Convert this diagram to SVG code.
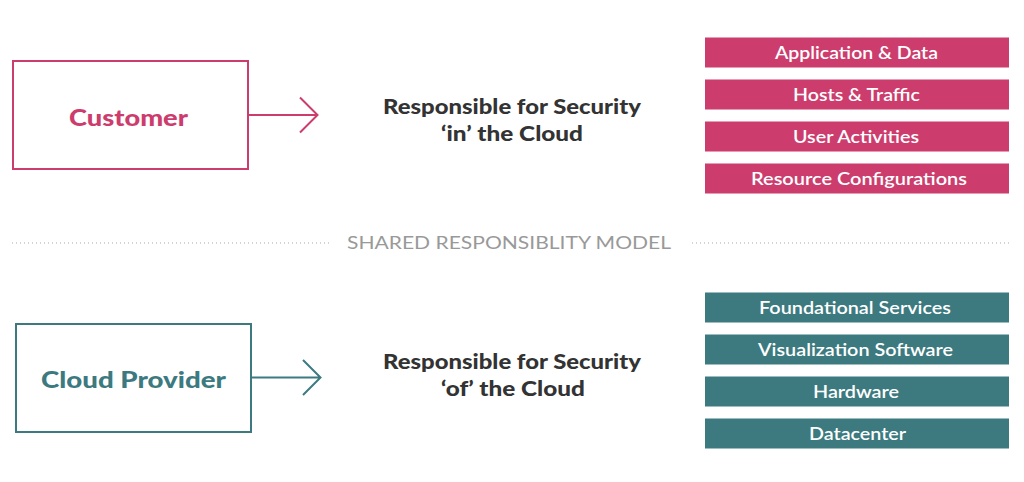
<svg xmlns="http://www.w3.org/2000/svg" width="1024" height="482" viewBox="0 0 1024 482">
<style>
.pk{fill:#cc3d6e}
.tl{fill:#3c7a80}
text{font-family:Lato,"Open Sans",sans-serif}
.bar{font-size:17.5px;font-weight:600;fill:#fff}
.mid{font-size:20px;font-weight:900;fill:#333}
.big{font-size:23px;font-weight:900}
.dot{stroke:#aaa;stroke-width:1;stroke-dasharray:1 3;fill:none}
</style>
<rect width="1024" height="482" fill="#fff"/>
<g id="customer">
<rect x="13" y="61" width="235" height="108" fill="none" stroke="#cc3d6e" stroke-width="2"/>
<text class="big" x="69" y="126" fill="#cc3d6e" textLength="119" lengthAdjust="spacingAndGlyphs">Customer</text>
</g>
<g id="cloud-provider">
<rect x="16" y="324" width="235" height="108" fill="none" stroke="#3c7a80" stroke-width="2"/>
<text class="big" x="41" y="388" fill="#3c7a80" textLength="185" lengthAdjust="spacingAndGlyphs">Cloud Provider</text>
</g>
<g id="connectors" fill="none" stroke-width="2">
<path d="M248 115 H317 M300 97.5 L317.5 115 L300 132.5" stroke="#cc3d6e"/>
<path d="M251 377.5 H320 M303 360 L320.5 377.5 L303 395" stroke="#3c7a80"/>
</g>
<g id="label-in">
<text class="mid" x="383" y="114" textLength="258" lengthAdjust="spacingAndGlyphs">Responsible for Security</text>
<text class="mid" x="441" y="141" textLength="142" lengthAdjust="spacingAndGlyphs">‘in’ the Cloud</text>
</g>
<g id="label-of">
<text class="mid" x="383" y="369" textLength="258" lengthAdjust="spacingAndGlyphs">Responsible for Security</text>
<text class="mid" x="441" y="396" textLength="144" lengthAdjust="spacingAndGlyphs">‘of’ the Cloud</text>
</g>
<g id="customer-items">
<rect class="pk" x="705" y="37.5" width="304" height="30"/>
<text class="bar" x="775" y="58.5" textLength="163" lengthAdjust="spacingAndGlyphs">Application &amp; Data</text>
<rect class="pk" x="705" y="79.5" width="304" height="30"/>
<text class="bar" x="793" y="100.5" textLength="127" lengthAdjust="spacingAndGlyphs">Hosts &amp; Traffic</text>
<rect class="pk" x="705" y="121.5" width="304" height="30"/>
<text class="bar" x="793" y="142.5" textLength="126" lengthAdjust="spacingAndGlyphs">User Activities</text>
<rect class="pk" x="705" y="163.5" width="304" height="30"/>
<text class="bar" x="751" y="184.5" textLength="216" lengthAdjust="spacingAndGlyphs">Resource Configurations</text>
</g>
<g id="provider-items">
<rect class="tl" x="705" y="292.5" width="304" height="30"/>
<text class="bar" x="759" y="313.5" textLength="192" lengthAdjust="spacingAndGlyphs">Foundational Services</text>
<rect class="tl" x="705" y="334.5" width="304" height="30"/>
<text class="bar" x="758" y="355.5" textLength="195" lengthAdjust="spacingAndGlyphs">Visualization Software</text>
<rect class="tl" x="705" y="376.5" width="304" height="30"/>
<text class="bar" x="813" y="397.5" textLength="86" lengthAdjust="spacingAndGlyphs">Hardware</text>
<rect class="tl" x="705" y="418.5" width="304" height="30"/>
<text class="bar" x="809" y="439.5" textLength="97" lengthAdjust="spacingAndGlyphs">Datacenter</text>
</g>
<g id="divider">
<path class="dot" d="M12 243 H330 M692 243 H1012"/>
<text x="347" y="248.5" font-size="17" fill="#999" textLength="324" lengthAdjust="spacingAndGlyphs">SHARED RESPONSIBLITY MODEL</text>
</g>
</svg>
